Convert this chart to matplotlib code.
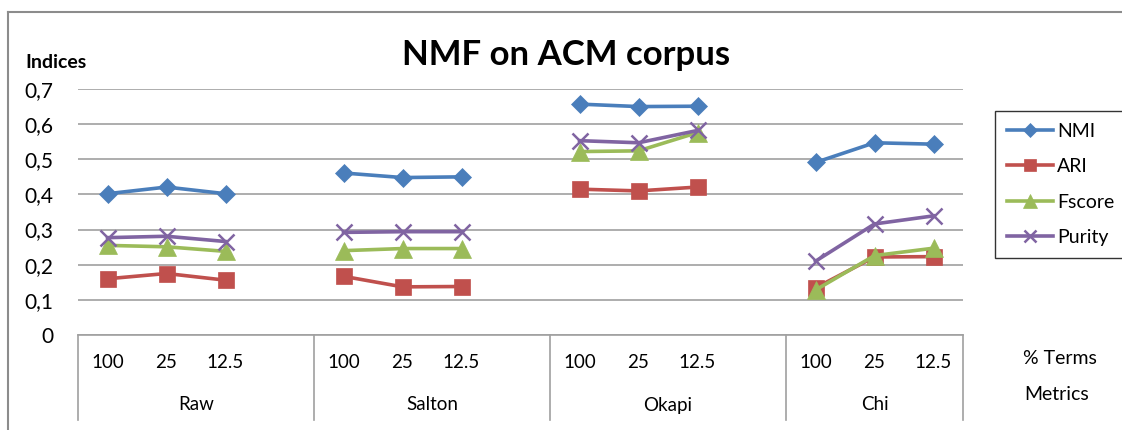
import numpy as np
import matplotlib
matplotlib.use("Agg")
import matplotlib.pyplot as plt
import matplotlib.lines as mlines

plt.rcParams["font.family"] = ["Lato", "DejaVu Sans"]

# ── Data ──────────────────────────────────────────────────────────────────────
GROUPS = ["Raw", "Salton", "Okapi", "Chi"]
TERMS = ["100", "25", "12.5"]

NMI    = [0.402, 0.421, 0.402,  0.461, 0.448, 0.450,  0.657, 0.650, 0.651,  0.491, 0.547, 0.543]
ARI    = [0.160, 0.175, 0.156,  0.167, 0.137, 0.138,  0.415, 0.410, 0.421,  0.134, 0.222, 0.223]
FSCORE = [0.255, 0.251, 0.238,  0.240, 0.246, 0.246,  0.522, 0.524, 0.576,  0.128, 0.226, 0.247]
PURITY = [0.277, 0.281, 0.266,  0.292, 0.294, 0.294,  0.553, 0.547, 0.582,  0.210, 0.316, 0.339]

YTICKS = [0, 0.1, 0.2, 0.3, 0.4, 0.5, 0.6, 0.7]
YTICK_LABELS = ["0", "0,1", "0,2", "0,3", "0,4", "0,5", "0,6", "0,7"]

SERIES = [
    ("NMI",    NMI,    "#4A7EBB", "D", 9.5,  1.0),
    ("ARI",    ARI,    "#C0504D", "s", 12,   1.0),
    ("Fscore", FSCORE, "#9BBB59", "^", 13,   1.0),
    ("Purity", PURITY, "#8064A2", "x", 12,   1.8),
]

# Excel category layout: each group takes 4 slots (last one empty), Chi only 3
N_SLOTS = 15
GROUP_STARTS = [0, 4, 8, 12]
GROUP_ENDS = [4, 8, 12, 15]


def to_slots(values):
    arr = np.full(N_SLOTS, np.nan)
    for g, start in enumerate(GROUP_STARTS):
        for j in range(len(TERMS)):
            arr[start + j] = values[g * len(TERMS) + j]
    return arr


W, H = 1122, 430
fig = plt.figure(figsize=(W / 100, H / 100), dpi=100)

# outer chart border (top and left visible)
fig.add_artist(mlines.Line2D([8 / W, 1], [1 - 12 / H, 1 - 12 / H],
                             color="#8C8C8C", lw=1.5, transform=fig.transFigure))
fig.add_artist(mlines.Line2D([8 / W, 8 / W], [0, 1 - 12 / H],
                             color="#8C8C8C", lw=1.5, transform=fig.transFigure))

left, right, top, bottom = 78, 963, 89, 335
ax = fig.add_axes([left / W, 1 - bottom / H, (right - left) / W, (bottom - top) / H])

x = np.arange(N_SLOTS) + 0.5
for name, vals, color, marker, ms, mew in SERIES:
    ax.plot(x, to_slots(vals), color=color, lw=2.6, marker=marker, ms=ms,
            mew=mew if marker == "x" else 0.5, mec=color, mfc=color,
            label=name, clip_on=False, zorder=3)

ax.set_xlim(0, N_SLOTS)
ax.set_ylim(0, 0.7)
ax.set_yticks(YTICKS)
ax.set_yticklabels(YTICK_LABELS, fontsize=15)
ax.tick_params(axis="y", length=0, pad=18)
ax.set_xticks([])
for s in ["left", "right", "top"]:
    ax.spines[s].set_visible(False)
ax.spines["bottom"].set_color("#A0A0A0")
ax.spines["bottom"].set_linewidth(1.2)
ax.grid(axis="y", color="#A0A0A0", lw=1.2)
ax.set_axisbelow(True)

# multi-level category axis
ax_h = bottom - top
trans = ax.get_xaxis_transform()
for b in sorted(set(GROUP_STARTS + GROUP_ENDS)):
    ax.plot([b, b], [0, -85 / ax_h], color="#A0A0A0", lw=1.2,
            transform=trans, clip_on=False)
for g, start in enumerate(GROUP_STARTS):
    for j, t in enumerate(TERMS):
        ax.text(start + j + 0.5, -27 / ax_h, t, transform=trans,
                ha="center", va="center", fontsize=13.5)
    ax.text((start + GROUP_ENDS[g]) / 2, -70 / ax_h, GROUPS[g], transform=trans,
            ha="center", va="center", fontsize=13.5)

fig.text(1060 / W, 1 - 358 / H, "% Terms", ha="center", va="center", fontsize=14)
fig.text(1057 / W, 1 - 395 / H, "Metrics", ha="center", va="center", fontsize=14)

fig.text(566 / W, 1 - 55 / H, "NMF on ACM corpus", ha="center", va="center",
         fontsize=25, fontweight="bold")
fig.text(25 / W, 1 - 62 / H, "Indices", ha="left", va="center",
         fontsize=14, fontweight="bold")

handles = [mlines.Line2D([0], [0], color=c, lw=2.6, marker=m, ms=ms * 0.75,
                         mew=mew if m == "x" else 0.5, mec=c, mfc=c, label=n)
           for n, v, c, m, ms, mew in SERIES]
leg = fig.legend(handles=handles, loc="upper left",
                 bbox_to_anchor=(995 / W, 1 - 111 / H), fontsize=14,
                 frameon=True, fancybox=False, edgecolor="black",
                 handlelength=2.4, handletextpad=0.2, labelspacing=0.95,
                 borderpad=0.6, borderaxespad=0)
leg.get_frame().set_linewidth(1.0)

fig.savefig("out.png", dpi=100)
